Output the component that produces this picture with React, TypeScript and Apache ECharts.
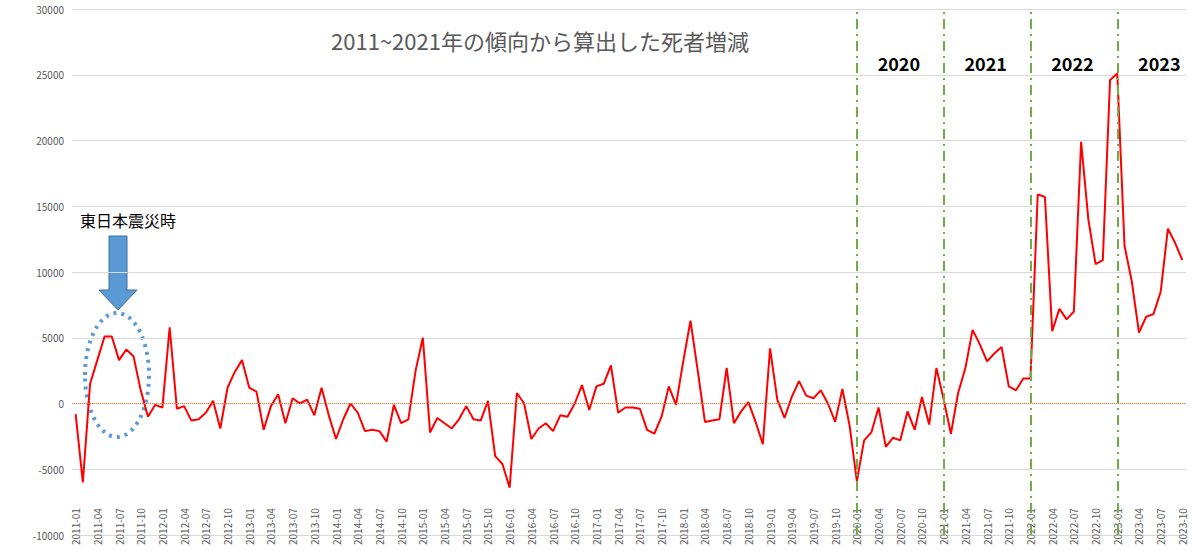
import React, { useEffect, useRef } from "react";
import * as echarts from "echarts";

// monthly labels 2011-01 .. 2023-10
const months: string[] = [];
for (let y = 2011; y <= 2023; y++) {
  for (let m = 1; m <= 12; m++) {
    if (y === 2023 && m > 10) break;
    months.push(`${y}-${String(m).padStart(2, "0")}`);
  }
}

const v2011 = [-800, -6000, 1500, 3300, 5100, 5100, 3300, 4100, 3600, 1000, -1000, -100];
const v2012 = [-300, 5800, -400, -200, -1300, -1200, -700, 200, -1900, 1200, 2400, 3300];
const v2013 = [1200, 900, -2000, -200, 700, -1500, 400, 0, 300, -900, 1200, -900];
const v2014 = [-2700, -1200, 0, -700, -2100, -2000, -2100, -2900, -100, -1500, -1200, 2500];
const v2015 = [5000, -2200, -1100, -1500, -1900, -1200, -200, -1200, -1300, 200, -4000, -4600];
const v2016 = [-6400, 800, 0, -2700, -1900, -1500, -2100, -900, -1000, 0, 1400, -500];
const v2017 = [1300, 1500, 2900, -700, -300, -300, -400, -2000, -2300, -1000, 1300, -100];
const v2018 = [3200, 6300, 2500, -1400, -1300, -1200, 2700, -1500, -600, 100, -1400, -3100];
const v2019 = [4200, 300, -1100, 500, 1700, 600, 400, 1000, 0, -1400, 1100, -1700];
const v2020 = [-5900, -2800, -2200, -300, -3300, -2600, -2800, -600, -2000, 500, -1600, 2700];
const v2021 = [300, -2300, 800, 2700, 5600, 4500, 3200, 3800, 4300, 1300, 1000, 1900];
const v2022 = [1900, 15900, 15700, 5500, 7200, 6400, 7000, 19900, 14000, 10600, 10900, 24600];
const v2023 = [25100, 12000, 9300, 5400, 6600, 6800, 8500, 13300, 12200, 10900];

const values = [
  ...v2011, ...v2012, ...v2013, ...v2014, ...v2015, ...v2016, ...v2017,
  ...v2018, ...v2019, ...v2020, ...v2021, ...v2022, ...v2023,
];

const yearLines = ["2020-01", "2021-01", "2022-01", "2023-01"];
const yearLabels = ["2020", "2021", "2022", "2023"];

const App: React.FC = () => {
  const ref = useRef<HTMLDivElement>(null);

  useEffect(() => {
    if (!ref.current) return;
    const chart = echarts.init(ref.current, null, { renderer: "svg" });
    const grid = { left: 72, right: 14, top: 9, bottom: 16 };
    const plotW = 1200 - grid.left - grid.right;
    const step = plotW / months.length;
    const xOf = (m: string) => grid.left + step * (months.indexOf(m) + 0.5);

    chart.setOption({
      animation: false,
      textStyle: { fontFamily: "Noto Sans CJK JP, sans-serif" },
      grid,
      xAxis: {
        type: "category",
        data: months,
        boundaryGap: true,
        axisLine: { show: false },
        axisTick: { show: false },
        axisLabel: {
          inside: true,
          rotate: 90,
          margin: -10,
          interval: 2,
          fontSize: 10,
          color: "#595959",
        },
      },
      yAxis: {
        type: "value",
        min: -10000,
        max: 30000,
        interval: 5000,
        axisLabel: { fontSize: 10, color: "#595959", formatter: (v: number) => String(v) },
        splitLine: { lineStyle: { color: "#d9d9d9" } },
      },
      series: [
        {
          type: "line",
          data: values,
          symbol: "none",
          lineStyle: { color: "#ff0000", width: 2 },
          markLine: {
            silent: true,
            symbol: "none",
            label: { show: false },
            data: [
              { yAxis: 0, lineStyle: { color: "#ed7d31", type: "dotted", width: 1 } },
              ...yearLines.map((m) => ({
                xAxis: m,
                lineStyle: { color: "#70ad47", type: [10, 5, 2, 5], width: 2 },
              })),
            ],
          },
        },
      ],
      graphic: [
        {
          type: "text",
          x: 540,
          y: 40,
          style: { text: "2011~2021年の傾向から算出した死者増減", fontSize: 22, fill: "#595959", align: "center", verticalAlign: "middle", fontFamily: "Noto Sans CJK JP" },
        },
        ...yearLabels.map((t, i) => ({
          type: "text",
          x: xOf(yearLines[i]) + 42,
          y: 63,
          style: { text: t, fontSize: 18, fontWeight: "bold", fill: "#000", align: "center", verticalAlign: "middle", fontFamily: "Noto Sans CJK JP" },
        })),
        {
          type: "text",
          x: 80,
          y: 212,
          style: { text: "東日本震災時", fontSize: 16, fill: "#000", fontFamily: "Noto Sans CJK JP" },
        },
        {
          type: "polygon",
          shape: { points: [[109, 236], [127, 236], [127, 290], [137, 290], [118, 310], [99, 290], [109, 290]] },
          style: { fill: "#5b9bd5", stroke: "#41719c", lineWidth: 1 },
        },
        {
          type: "ellipse",
          shape: { cx: 117, cy: 375, rx: 32, ry: 62 },
          style: { fill: "none", stroke: "#5b9bd5", lineWidth: 4, lineDash: [3, 5] },
        },
      ],
    });
    return () => chart.dispose();
  }, []);

  return (
    <div
      ref={ref}
      style={{ position: "absolute", left: 0, top: 0, width: 1200, height: 551 }}
    />
  );
};

export default App;
